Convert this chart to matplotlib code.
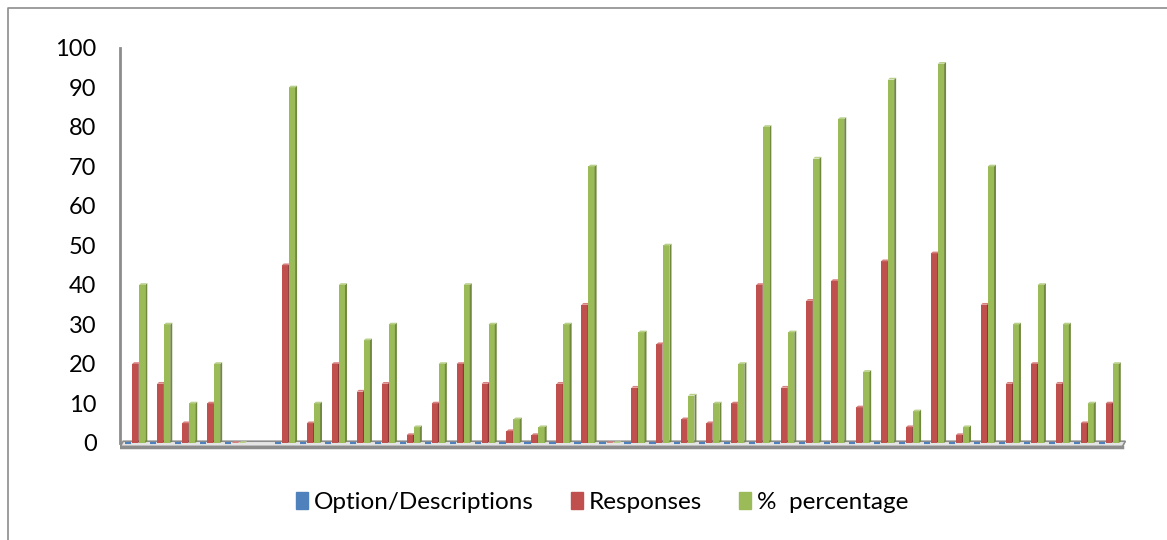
import numpy as np
import matplotlib.pyplot as plt
import matplotlib.patches as mpatches
from matplotlib.lines import Line2D

plt.rcParams['font.family'] = ['Lato', 'DejaVu Sans']

nan = np.nan
series_names = ['Option/Descriptions', 'Responses', '%  percentage']
options = [0, 0, 0, 0, 0, nan, 0, 0, 0, 0, 0, 0, 0, 0, 0, 0, 0, 0, 0, 0,
           0, 0, 0, 0, 0, 0, 0, 0, 0, 0, 0, 0, 0, 0, 0, 0, 0, 0, 0, 0]
responses = [20, 15, 5, 10, 0, nan, 45, 5, 20, 13, 15, 2, 10, 20, 15, 3, 2, 15, 35, 0,
             14, 25, 6, 5, 10, 40, 14, 36, 41, 9, 46, 4, 48, 2, 35, 15, 20, 15, 5, 10]
percentage = [40, 30, 10, 20, 0, nan, 90, 10, 40, 26, 30, 4, 20, 40, 30, 6, 4, 30, 70, 0,
              28, 50, 12, 10, 20, 80, 28, 72, 82, 18, 92, 8, 96, 4, 70, 30, 40, 30, 10, 20]
y_ticks = [0, 10, 20, 30, 40, 50, 60, 70, 80, 90, 100]

face = ['#4F81BD', '#C0504D', '#9BBB59']
side = ['#385D8A', '#8C3836', '#71893F']
top = ['#7FA3D1', '#D7817F', '#B9D08A']

fig = plt.figure(figsize=(11.67, 5.40), dpi=100)
ax = fig.add_axes([0.103, 0.165, 0.862, 0.7535])

x = np.arange(len(responses))
w = 0.25
off = 0.28
dx, dy = 0.08, 0.45

# floor under the bars
xl, xr = -0.6, len(x) - 0.45
ax.add_patch(mpatches.Polygon([(xl, -0.9), (xr, -0.9), (xr + 0.12, dy), (xl + 0.12, dy)],
                              closed=True, facecolor='#e4e4e4', edgecolor='#8c8c8c',
                              linewidth=1.2, zorder=1))
ax.plot([xl, xr], [-0.9, -0.9], color='#8c8c8c', linewidth=2.5, zorder=1)

for k, vals in enumerate([options, responses, percentage]):
    pos = x + (k - 1) * off
    vals = np.asarray(vals, dtype=float)
    if k == 0:
        ax.bar(pos, vals, width=w, color=face[k], edgecolor=face[k], linewidth=1.5, zorder=2)
        continue
    ax.bar(pos, vals, width=w, color=face[k], linewidth=0, zorder=3)
    for p, h in zip(pos, vals):
        if np.isnan(h):
            continue
        r = p + w / 2
        ax.add_patch(mpatches.Polygon([(r, 0), (r + dx, dy), (r + dx, h + dy), (r, h)],
                                      closed=True, facecolor=side[k], linewidth=0, zorder=3))
        ax.add_patch(mpatches.Polygon([(p - w / 2, h), (r, h), (r + dx, h + dy), (p - w / 2 + dx, h + dy)],
                                      closed=True, facecolor=top[k], linewidth=0, zorder=3))

ax.set_xlim(-0.6, len(x) - 0.3)
ax.set_ylim(-2, 101)
ax.set_yticks(y_ticks)
ax.set_xticks([])
ax.tick_params(axis='y', length=0, pad=17, labelsize=17)
for s in ['top', 'right', 'bottom']:
    ax.spines[s].set_visible(False)
ax.spines['left'].set_bounds(0, 100)
ax.spines['left'].set_color('#8c8c8c')
ax.spines['left'].set_linewidth(2)

handles = [mpatches.Patch(color=c, label=n) for c, n in zip(face, series_names)]
fig.legend(handles=handles, loc='center', bbox_to_anchor=(0.516, 0.069), ncol=3,
           frameon=False, fontsize=17.5, handlelength=0.5, handleheight=0.7,
           handletextpad=0.25, columnspacing=1.5)

# chart frame
fig.add_artist(Line2D([8 / 1167, 8 / 1167, 1.0], [0.0, 1 - 8 / 540, 1 - 8 / 540],
                      transform=fig.transFigure, color='#8c8c8c', linewidth=1.2))

# descenders of the text line above the chart
fig.text(0.0, 1.012, 'p', fontsize=16, family='Liberation Serif', va='baseline')
fig.text(0.311, 1.012, 'p', fontsize=16, family='Liberation Serif', va='baseline')

fig.savefig('out.png', dpi=100)
